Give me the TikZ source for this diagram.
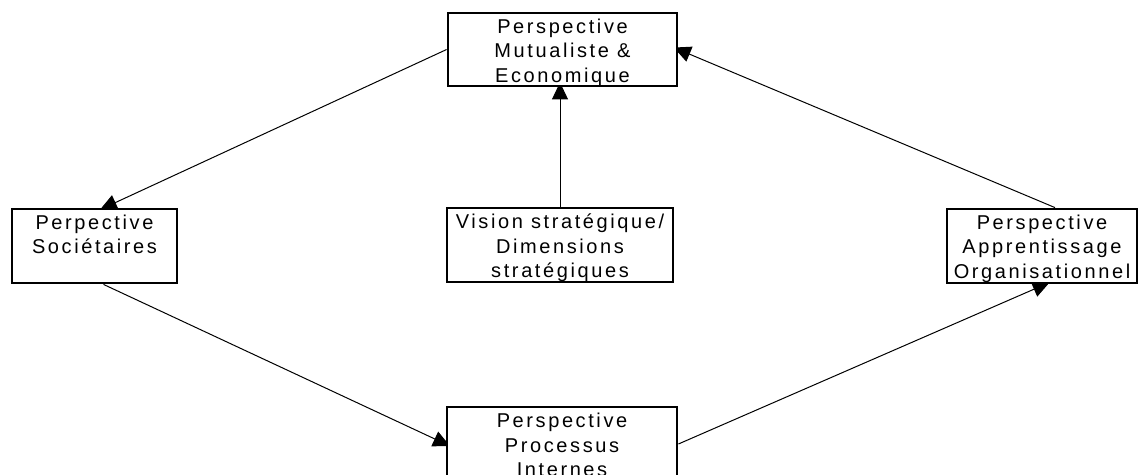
\documentclass[tikz,border=0pt]{standalone}
\usepackage{fontspec}
\setmainfont{Liberation Sans}[LetterSpace=13]
\usetikzlibrary{arrows.meta,backgrounds,calc}
\tikzset{
  boxnode/.style={draw=black, line width=2.8pt, fill=white, inner sep=0pt, rectangle},
  conn/.style={line width=1pt, -{Triangle[length=17pt,width=16pt]}, shorten >=-5pt},
}
\newcommand{\boxtext}[3]{\parbox[c][#2][t]{#1}{\centering\fontsize{20}{24.5}\selectfont\vspace*{6pt}#3}}
\begin{document}
\begin{tikzpicture}[x=1pt,y=-1pt]
\useasboundingbox (0,0) rectangle (1139,474);
\clip (0,0) rectangle (1139,474);
\node[boxnode] (top) at (562.5,49.5) {\boxtext{229pt}{73pt}{Perspective\\Mutualiste \&\\Economique}};
\node[boxnode] (left) at (94.5,246) {\boxtext{165pt}{74pt}{Perpective\\Sociétaires}};
\node[boxnode] (mid) at (560,245) {\boxtext{226pt}{74pt}{Vision stratégique/\\Dimensions\\stratégiques}};
\node[boxnode] (right) at (1042,246) {\boxtext{190pt}{74pt}{Perspective\\Apprentissage\\Organisationnel}};
\node[boxnode] (bottom) at (562,444) {\boxtext{230pt}{74pt}{Perspective\\Processus\\Internes}};
\begin{scope}[on background layer]
\draw[conn] (top.west) -- ([xshift=10pt]left.north);
\draw[conn] (mid.north) -- (mid.north |- top.south);
\draw[conn] ([xshift=13pt]right.north) -- (top.east);
\draw[conn] ([xshift=9pt]left.south) -- (bottom.west);
\draw[conn] (bottom.east) -- ([xshift=3pt]right.south);
\end{scope}
\end{tikzpicture}
\end{document}
